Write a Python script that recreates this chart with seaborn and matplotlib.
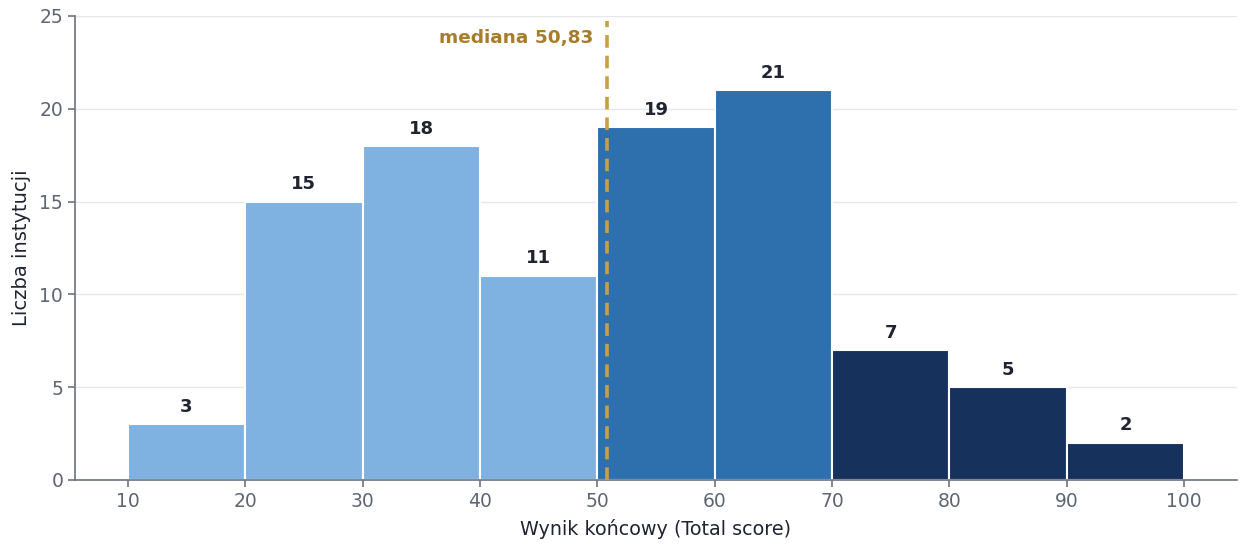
import numpy as np
import pandas as pd
import seaborn as sns
import matplotlib.pyplot as plt

# histogram data
bin_edges = [10, 20, 30, 40, 50, 60, 70, 80, 90, 100]
counts = [3, 15, 18, 11, 19, 21, 7, 5, 2]
groups = ["low", "low", "low", "low", "mid", "mid", "high", "high", "high"]
median_value = 50.83
median_label = "mediana 50,83"

group_colors = {"low": "#7fb2e0", "mid": "#2e6fae", "high": "#16315c"}

df = pd.DataFrame({
    "center": [(a + b) / 2 for a, b in zip(bin_edges[:-1], bin_edges[1:])],
    "count": counts,
    "group": groups,
})

sns.set_style("white")
plt.rcParams['font.family'] = ['DejaVu Sans']

fig = plt.figure(figsize=(12.5, 5.51), dpi=100)
ax = fig.add_axes([0.06, 0.129, 0.9296, 0.842])

sns.histplot(data=df, x="center", weights="count", bins=bin_edges, ax=ax,
             edgecolor="white", linewidth=1.5, alpha=1)

for patch, g in zip(ax.patches, df["group"]):
    patch.set_facecolor(group_colors[g])

# count labels above bars
for patch, c in zip(ax.patches, df["count"]):
    ax.text(patch.get_x() + patch.get_width() / 2, c + 0.45, str(c),
            ha="center", va="bottom", fontsize=13, fontweight="bold", color="#1f2430")

# median line
ax.axvline(median_value, ymax=0.99, color="#c9a040", linestyle=(0, (3.5, 2.2)),
           linewidth=2.6, zorder=5)
ax.text(median_value - 1.2, 23.8, median_label, ha="right", va="center",
        fontsize=13.3, fontweight="bold", color="#a87d2a")

ax.set_ylim(0, 25)
ax.set_xlim(5.5, 104.5)
ax.set_xticks(bin_edges)
ax.set_yticks([0, 5, 10, 15, 20, 25])
ax.yaxis.grid(True, color="#e5e7eb", linewidth=1)
ax.set_axisbelow(True)

for side in ["top", "right"]:
    ax.spines[side].set_visible(False)
for side in ["left", "bottom"]:
    ax.spines[side].set_color("#6b7280")
    ax.spines[side].set_linewidth(1.2)

ax.tick_params(axis="both", colors="#6b7280", labelsize=13.5, length=5, width=1.2,
               left=True, bottom=True)
for lbl in ax.get_xticklabels() + ax.get_yticklabels():
    lbl.set_color("#5f6673")

ax.set_xlabel("Wynik końcowy (Total score)", fontsize=13.8, color="#1f2430", labelpad=6)
ax.set_ylabel("Liczba instytucji", fontsize=14, color="#1f2430", labelpad=6)

fig.savefig("out.png", dpi=100)
